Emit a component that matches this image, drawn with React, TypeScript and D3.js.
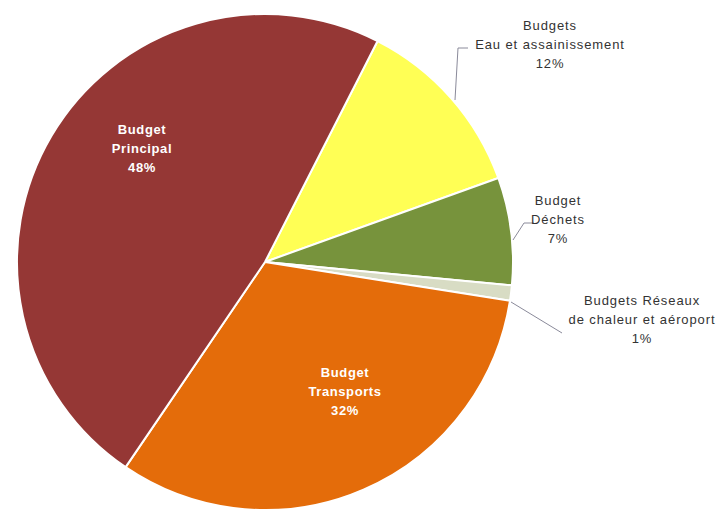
import React from "react";
import * as d3 from "d3";

const categories = [
  "Budgets Eau et assainissement",
  "Budget Déchets",
  "Budgets Réseaux de chaleur et aéroport",
  "Budget Transports",
  "Budget Principal",
];
const values = [12, 7, 1, 32, 48];
const labelLines = [
  ["Budgets", "Eau et assainissement", "12%"],
  ["Budget", "Déchets", "7%"],
  ["Budgets Réseaux", "de chaleur et aéroport", "1%"],
  ["Budget", "Transports", "32%"],
  ["Budget", "Principal", "48%"],
];
const colors = ["#FFFF55", "#77933C", "#D8DCC4", "#E46C0A", "#953735"];

const W = 721;
const H = 512;
const cx = 265;
const cy = 262;
const R = 248;

// label placements: [x, y of first baseline, inside?]
const labelPos: Array<[number, number, boolean]> = [
  [550, 30, false],
  [558, 205, false],
  [642, 305, false],
  [345, 377, true],
  [142, 134, true],
];
const leaders: Array<Array<[number, number]>> = [
  [[455, 100], [458, 48], [468, 48]],
  [[513, 240], [524, 223], [534, 223]],
  [[511, 302], [562, 333]],
  [],
  [],
];

export default function App() {
  const startDeg = 27;
  const pie = d3
    .pie<number>()
    .sort(null)
    .value((d) => d)
    .startAngle((startDeg * Math.PI) / 180)
    .endAngle((startDeg * Math.PI) / 180 + 2 * Math.PI);
  const arcs = pie(values);
  const arc = d3.arc<d3.PieArcDatum<number>>().innerRadius(0).outerRadius(R);
  const line = d3.line();

  return (
    <svg width={W} height={H} style={{ position: "absolute", left: 0, top: 0, background: "#fff" }}>
      <g transform={`translate(${cx},${cy})`}>
        {arcs.map((a, i) => (
          <path key={categories[i]} d={arc(a) || ""} fill={colors[i]} stroke="#fff" strokeWidth={2} strokeLinejoin="round" />
        ))}
      </g>
      {leaders.map((pts, i) =>
        pts.length ? (
          <path key={"l" + i} d={line(pts) || ""} fill="none" stroke="#8a8a9a" strokeWidth={1} />
        ) : null
      )}
      {labelLines.map((lines, i) => {
        const [x, y, inside] = labelPos[i];
        return (
          <text
            key={"t" + i}
            x={x}
            y={y}
            textAnchor="middle"
            fontFamily="Liberation Sans, Arial, sans-serif"
            fontSize={13}
            letterSpacing={inside ? 0.6 : 0.9}
            fontWeight={inside ? "bold" : "normal"}
            fill={inside ? "#fff" : "#333"}
          >
            {lines.map((l, j) => (
              <tspan key={j} x={x} dy={j === 0 ? 0 : 19}>
                {l}
              </tspan>
            ))}
          </text>
        );
      })}
    </svg>
  );
}
